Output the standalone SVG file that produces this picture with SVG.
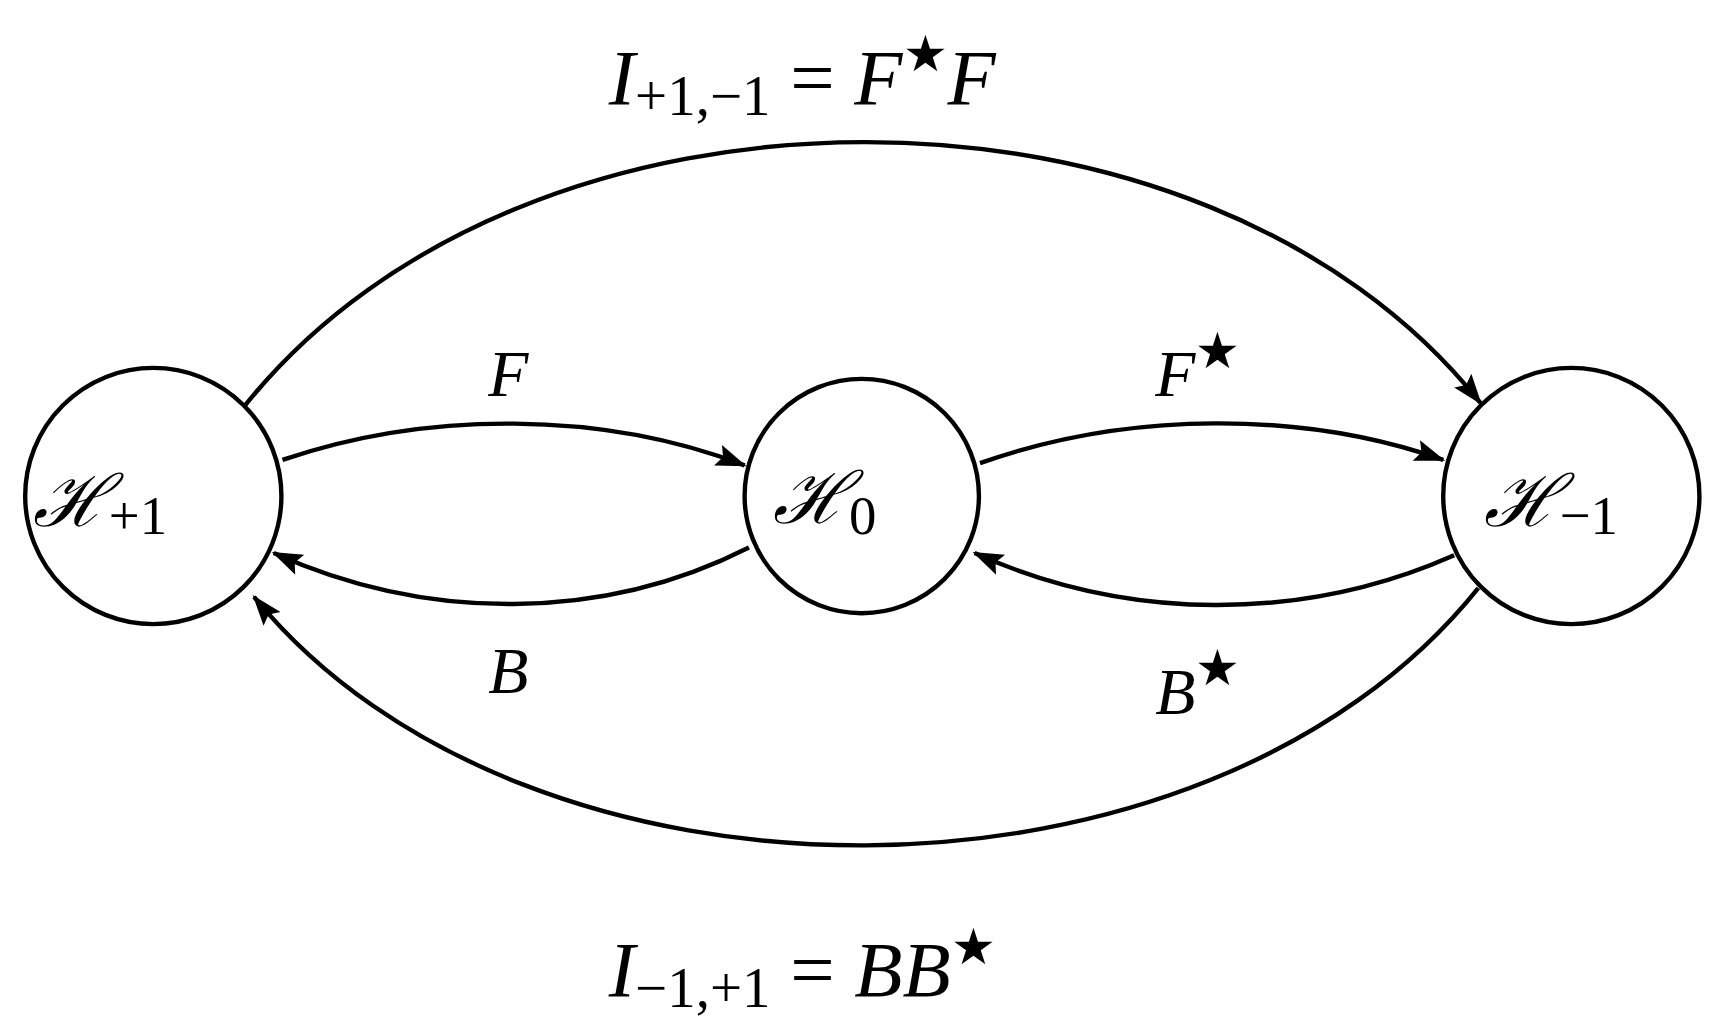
<svg xmlns="http://www.w3.org/2000/svg" width="1717" height="1025" viewBox="0 0 1717 1025">
<style>
.n{fill:none;stroke:#000;stroke-width:4}
.c{fill:none;stroke:#000;stroke-width:4}
text{font-family:"Liberation Serif","DejaVu Serif",serif;fill:#000}
.m{font-style:italic;font-size:60px}
.t{font-style:italic;font-size:72px}
.h{font-size:66px}
.s{font-size:46px;font-style:normal}
.u{font-size:50px;font-style:normal}
</style>
<defs>
<marker id="b" markerWidth="30" markerHeight="24" refX="26" refY="12" orient="auto" markerUnits="userSpaceOnUse"><path d="M0,2L28,12L0,22L5,12z"/></marker></defs>
<rect width="1717" height="1025" fill="#fff"/>
<g transform="scale(1.095)">
<g id="hp1"><circle class="n" cx="140" cy="453" r="117"/><text x="30" y="480" class="h"><tspan font-style="italic">ℋ</tspan><tspan class="u" dy="8">+1</tspan></text></g>
<g id="h0"><circle class="n" cx="787" cy="453" r="107"/><text x="706" y="478" class="h"><tspan font-style="italic">ℋ</tspan><tspan class="u" dy="10">0</tspan></text></g>
<g id="hm1"><circle class="n" cx="1435" cy="453" r="117"/><text x="1355" y="480" class="h"><tspan font-style="italic">ℋ</tspan><tspan class="u" dy="8">−1</tspan></text></g>
<g id="connectors">
<path class="c" marker-end="url(#b)" d="M224,370 C480,50 1100,50 1352,368"/>
<path class="c" marker-end="url(#b)" d="M1350,537 C1100,849 480,849 232,545"/>
<path class="c" marker-end="url(#b)" d="M258,420 C390,375 550,375 680,425"/>
<path class="c" marker-end="url(#b)" d="M684,500 C550,568 390,568 250,505"/>
<path class="c" marker-end="url(#b)" d="M895,423 C1030,375 1190,375 1318,420"/>
<path class="c" marker-end="url(#b)" d="M1328,507 C1190,568 1030,568 890,505"/>
</g>
<g id="labels">
<text x="446" y="362" class="m">F</text>
<text x="446" y="633" class="m">B</text>
<text x="1055" y="362" class="m">F<tspan class="s" dy="-26">★</tspan></text>
<text x="1055" y="652" class="m">B<tspan class="s" dy="-26">★</tspan></text>
<text x="556" y="95" class="t">I<tspan font-size="52" font-style="normal" dy="10">+1,−1</tspan><tspan dy="-10" font-style="normal"> = </tspan>F<tspan class="s" dy="-30">★</tspan><tspan dy="30">F</tspan></text>
<text x="556" y="910" class="t">I<tspan font-size="52" font-style="normal" dy="10">−1,+1</tspan><tspan dy="-10" font-style="normal"> = </tspan>BB<tspan class="s" dy="-30">★</tspan></text>
</g>
</g>
</svg>
